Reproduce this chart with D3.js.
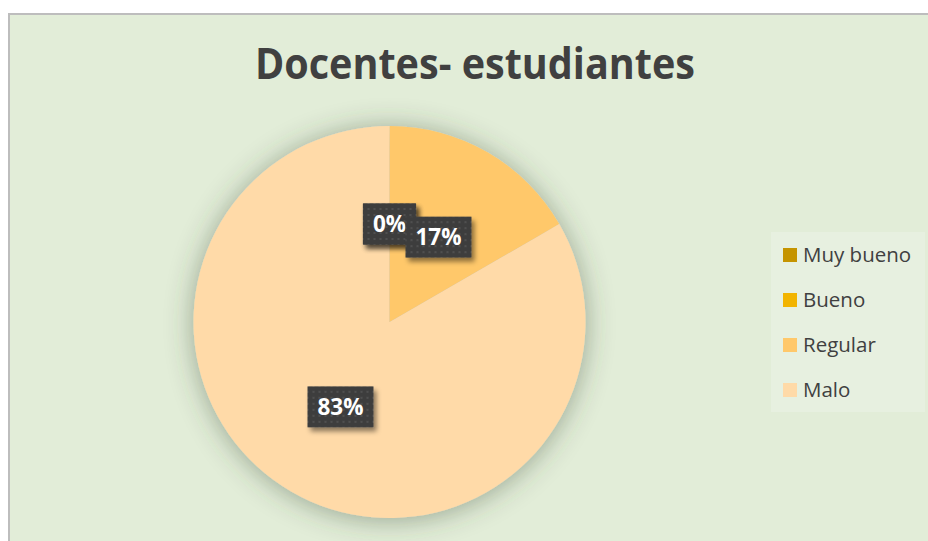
<!DOCTYPE html>
<html>
<head>
<meta charset="utf-8">
<script src="https://cdn.jsdelivr.net/npm/d3@7"></script>
<style>
  body { margin: 0; background: #fff; }
  svg { display: block; }
</style>
</head>
<body>
<svg id="chart" width="928" height="541"></svg>
<script>
// chart data
const categories = ["Muy bueno", "Bueno", "Regular", "Malo"];
const values = [0, 0, 1, 5];
const colors = ["#C59400", "#F2B400", "#FFC86A", "#FFDAA8"];
const title = "Docentes- estudiantes";

const svg = d3.select("#chart");
const W = 928, H = 541;
const textColor = "#404040";

// filters and label pattern
const defs = svg.append("defs");
defs.append("filter").attr("id", "pieGlow")
    .attr("x", "-30%").attr("y", "-30%").attr("width", "160%").attr("height", "160%")
  .append("feDropShadow")
    .attr("dx", 0).attr("dy", 2).attr("stdDeviation", 14)
    .attr("flood-color", "#3a4a30").attr("flood-opacity", 0.45);

defs.append("filter").attr("id", "boxShadow")
    .attr("x", "-30%").attr("y", "-30%").attr("width", "160%").attr("height", "160%")
  .append("feDropShadow")
    .attr("dx", 3).attr("dy", 4).attr("stdDeviation", 2.5)
    .attr("flood-color", "#000").attr("flood-opacity", 0.45);

const pat = defs.append("pattern").attr("id", "dots")
    .attr("width", 6).attr("height", 6).attr("patternUnits", "userSpaceOnUse");
pat.append("rect").attr("width", 6).attr("height", 6).attr("fill", "#3e3e3e");
pat.append("rect").attr("x", 2).attr("y", 2).attr("width", 2).attr("height", 2).attr("fill", "#4f4f4f");

// chart area with border
svg.append("rect")
    .attr("x", 9).attr("y", 14).attr("width", W + 10).attr("height", H + 10)
    .attr("fill", "#E2EDD8").attr("stroke", "#BDBDBD").attr("stroke-width", 2);

// title
svg.append("text")
    .attr("x", 475).attr("y", 79)
    .attr("text-anchor", "middle")
    .attr("font-family", "'Open Sans', sans-serif")
    .attr("font-weight", "bold")
    .attr("font-size", 43)
    .attr("fill", textColor)
    .attr("textLength", 440)
    .attr("lengthAdjust", "spacingAndGlyphs")
    .text(title);

// pie
const cx = 389.5, cy = 322, r = 196;
const total = d3.sum(values);
const data = categories.map((c, i) => ({ name: c, value: values[i], color: colors[i] }));

const pie = d3.pie().value(d => d.value).sort(null);
const arc = d3.arc().innerRadius(0).outerRadius(r);
const arcs = pie(data);

const g = svg.append("g").attr("transform", `translate(${cx},${cy})`);
g.append("g").attr("filter", "url(#pieGlow)")
  .selectAll("path")
  .data(arcs.filter(d => d.value > 0))
  .join("path")
    .attr("d", arc)
    .attr("fill", d => d.data.color);

// data labels
const labels = g.append("g");
arcs.forEach(d => {
  const [lx, ly] = arc.centroid(d);
  const lab = labels.append("g").attr("transform", `translate(${lx},${ly})`);
  const box = lab.append("rect").attr("filter", "url(#boxShadow)").attr("fill", "url(#dots)");
  const t = lab.append("text")
      .attr("text-anchor", "middle")
      .attr("dy", "0.36em")
      .attr("font-family", "'Open Sans', sans-serif")
      .attr("font-weight", "bold")
      .attr("font-size", 22.5)
      .attr("fill", "#fff")
      .text(Math.round(d.value / total * 100) + "%");
  const tw = t.node().getComputedTextLength();
  const bw = tw + 20, bh = 41;
  box.attr("x", -bw / 2).attr("y", -bh / 2).attr("width", bw).attr("height", bh);
});

// legend
const legend = svg.append("g");
legend.append("rect")
    .attr("x", 771).attr("y", 232).attr("width", 154).attr("height", 180)
    .attr("fill", "#E7F0E0");

const item = legend.selectAll("g.item")
  .data(data)
  .join("g")
    .attr("class", "item")
    .attr("transform", (d, i) => `translate(783,${248 + i * 45})`);
item.append("rect")
    .attr("width", 14).attr("height", 14)
    .attr("fill", d => d.color);
item.append("text")
    .attr("x", 20).attr("y", 14)
    .attr("font-family", "'Open Sans', sans-serif")
    .attr("font-size", 20.5)
    .attr("fill", textColor)
    .text(d => d.name);
</script>
</body>
</html>
